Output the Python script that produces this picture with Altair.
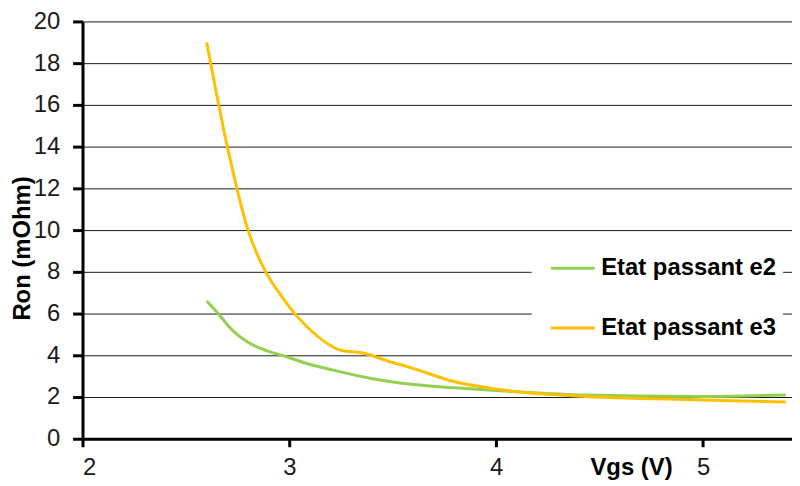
import altair as alt
import pandas as pd

series_names = ["Etat passant e2", "Etat passant e3"]

vgs_e2 = [2.6, 2.66, 2.72, 2.8, 2.885, 2.98, 3.08, 3.2, 3.4, 3.6, 3.8, 4.0, 4.4, 5.0, 5.4]
ron_e2 = [6.6, 5.95, 5.24, 4.62, 4.24, 3.95, 3.62, 3.32, 2.88, 2.6, 2.44, 2.31, 2.1, 2.03, 2.1]

vgs_e3 = [2.6, 2.7, 2.8, 2.885, 2.95, 3.03, 3.11, 3.19, 3.25, 3.35, 3.48, 3.59, 3.78, 4.0, 4.39, 5.0, 5.4]
ron_e3 = [19.0, 14.0, 10.0, 8.0, 7.0, 5.95, 5.14, 4.52, 4.24, 4.12, 3.71, 3.4, 2.78, 2.38, 2.05, 1.86, 1.76]

x_ticks = [2, 3, 4, 5]
y_ticks = [0, 2, 4, 6, 8, 10, 12, 14, 16, 18, 20]

df = pd.concat([
    pd.DataFrame({"Vgs": vgs_e2, "Ron": ron_e2, "serie": series_names[0], "o": range(len(vgs_e2))}),
    pd.DataFrame({"Vgs": vgs_e3, "Ron": ron_e3, "serie": series_names[1], "o": range(len(vgs_e3))}),
])

FONT = "Liberation Sans"

chart = alt.Chart(df).mark_line(strokeWidth=3, interpolate="monotone", clip=True).encode(
    x=alt.X("Vgs:Q", scale=alt.Scale(domain=[2, 5.43], nice=False, zero=False),
            axis=alt.Axis(values=x_ticks, grid=False, title="Vgs (V)",
                          titleX=552, titleY=29, titleAlign="center", titleBaseline="middle",
                          tickSize=8, labelPadding=9)),
    y=alt.Y("Ron:Q", scale=alt.Scale(domain=[0, 20], nice=False),
            axis=alt.Axis(values=y_ticks, grid=True, title="Ron (mOhm)",
                          titleX=-60, titleY=228, titleAngle=-90, titleAlign="center",
                          titleBaseline="middle", tickSize=10, labelPadding=13)),
    color=alt.Color("serie:N", scale=alt.Scale(domain=series_names, range=["#92D050", "#FFC000"]),
                    legend=alt.Legend(title=None, orient="none", legendX=452, legendY=219,
                                      fillColor="white", padding=6, symbolType="stroke",
                                      symbolSize=1936, symbolStrokeWidth=3, symbolOffset=12,
                                      labelFontSize=24, labelFontWeight="bold", labelFont=FONT,
                                      labelColor="#000", rowPadding=24, labelOffset=5,
                                      labelLimit=400)),
    order="o:Q",
).properties(
    width=714, height=420,
    autosize=alt.AutoSizeParams(type="none"),
    padding={"left": 75, "top": 12, "right": 0, "bottom": 40},
).configure_view(stroke=None).configure_axis(
    labelFont=FONT, labelFontSize=24, labelColor="#1a1a1a",
    titleFont=FONT, titleFontSize=24, titleFontWeight="bold", titleColor="#000",
    domainColor="#000", domainWidth=3, tickColor="#000", tickWidth=3,
    gridColor="#000", gridWidth=1, gridOpacity=0.9,
)

chart.save("out.html", embed_options={"renderer": "svg", "actions": False})
